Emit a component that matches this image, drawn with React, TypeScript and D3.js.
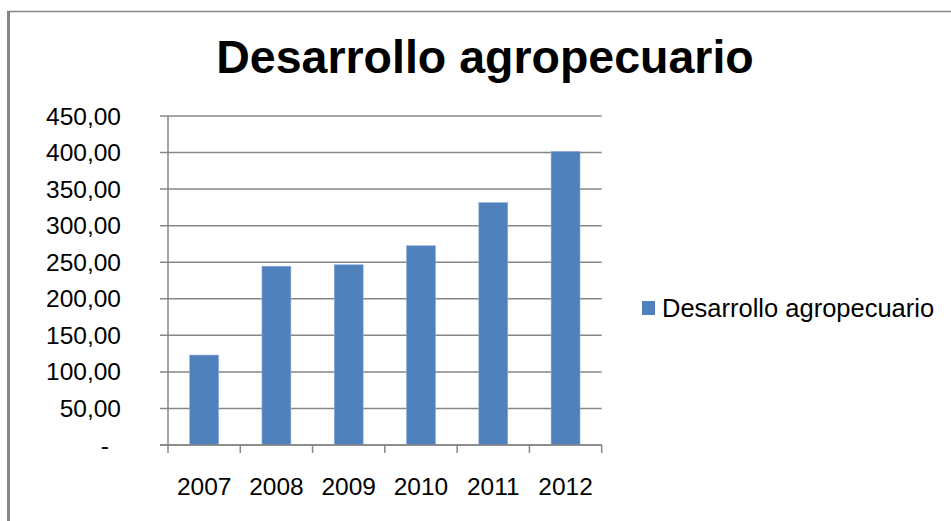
import React from "react";
import * as d3 from "d3";

const categories = ["2007", "2008", "2009", "2010", "2011", "2012"];
const values = [123, 244.5, 246.5, 272.5, 331.5, 401.5];
const yTicks = [0, 50, 100, 150, 200, 250, 300, 350, 400, 450];
const title = "Desarrollo agropecuario";
const seriesName = "Desarrollo agropecuario";

const W = 951;
const H = 521;
const plot = { left: 168, right: 601.7, top: 116, bottom: 445 };
const BAR = "#4F81BD";
const GRID = "#868686";
const FONT = "Arial, 'Liberation Sans', sans-serif";

const fmt = (v: number) => (v === 0 ? "-" : d3.format(".2f")(v).replace(".", ","));

export default function App() {
  const x = d3
    .scaleBand<string>()
    .domain(categories)
    .range([plot.left, plot.right])
    .paddingInner(0.6)
    .paddingOuter(0.3);
  const band = d3.scaleBand<string>().domain(categories).range([plot.left, plot.right]);
  const y = d3.scaleLinear().domain([0, 450]).range([plot.bottom, plot.top]);
  const boundaries = d3.range(categories.length + 1).map(
    (i) => plot.left + i * band.step()
  );

  return (
    <svg
      width={W}
      height={H}
      style={{ position: "absolute", left: 0, top: 0, background: "#fff" }}
      fontFamily={FONT}
    >
      <rect x={0} y={0} width={W} height={H} fill="#fff" />
      {/* outer border */}
      <line x1={7} x2={W} y1={11.5} y2={11.5} stroke={GRID} strokeWidth={1.5} />
      <line x1={8.5} x2={8.5} y1={11} y2={H} stroke={GRID} strokeWidth={3} />

      <text x={485} y={73} textAnchor="middle" fontSize={46.5} fontWeight="bold" fill="#000">
        {title}
      </text>

      {/* gridlines */}
      {yTicks.map((t) => (
        <line
          key={"g" + t}
          x1={plot.left - 8}
          x2={plot.right}
          y1={y(t)}
          y2={y(t)}
          stroke={GRID}
          strokeWidth={1.5}
        />
      ))}
      {/* y labels */}
      {yTicks.map((t) => (
        <text
          key={"l" + t}
          x={t === 0 ? 109 : 121}
          y={y(t)}
          dy="0.35em"
          textAnchor="end"
          fontSize={24.5}
          fill="#000"
        >
          {fmt(t)}
        </text>
      ))}

      {/* bars */}
      {categories.map((c, i) => (
        <rect
          key={c}
          x={x(c)}
          y={y(values[i])}
          width={x.bandwidth()}
          height={y(0) - y(values[i])}
          fill={BAR}
          stroke="#8FAADC"
          strokeWidth={0.6}
        />
      ))}

      {/* axes */}
      <line x1={plot.left} x2={plot.left} y1={plot.top} y2={plot.bottom} stroke={GRID} strokeWidth={1.5} />
      <line x1={plot.left - 8} x2={plot.right} y1={plot.bottom} y2={plot.bottom} stroke={GRID} strokeWidth={1.5} />
      {boundaries.map((bx, i) => (
        <line
          key={"t" + i}
          x1={bx}
          x2={bx}
          y1={plot.bottom}
          y2={plot.bottom + 8}
          stroke={GRID}
          strokeWidth={1.5}
        />
      ))}
      {categories.map((c) => (
        <text
          key={"x" + c}
          x={band(c)! + band.bandwidth() / 2}
          y={486}
          dy="0.35em"
          textAnchor="middle"
          fontSize={24.5}
          fill="#000"
        >
          {c}
        </text>
      ))}

      {/* legend */}
      <rect x={642} y={301} width={13} height={14} fill={BAR} />
      <text x={662} y={308} dy="0.35em" fontSize={25.5} fill="#000">
        {seriesName}
      </text>
    </svg>
  );
}
